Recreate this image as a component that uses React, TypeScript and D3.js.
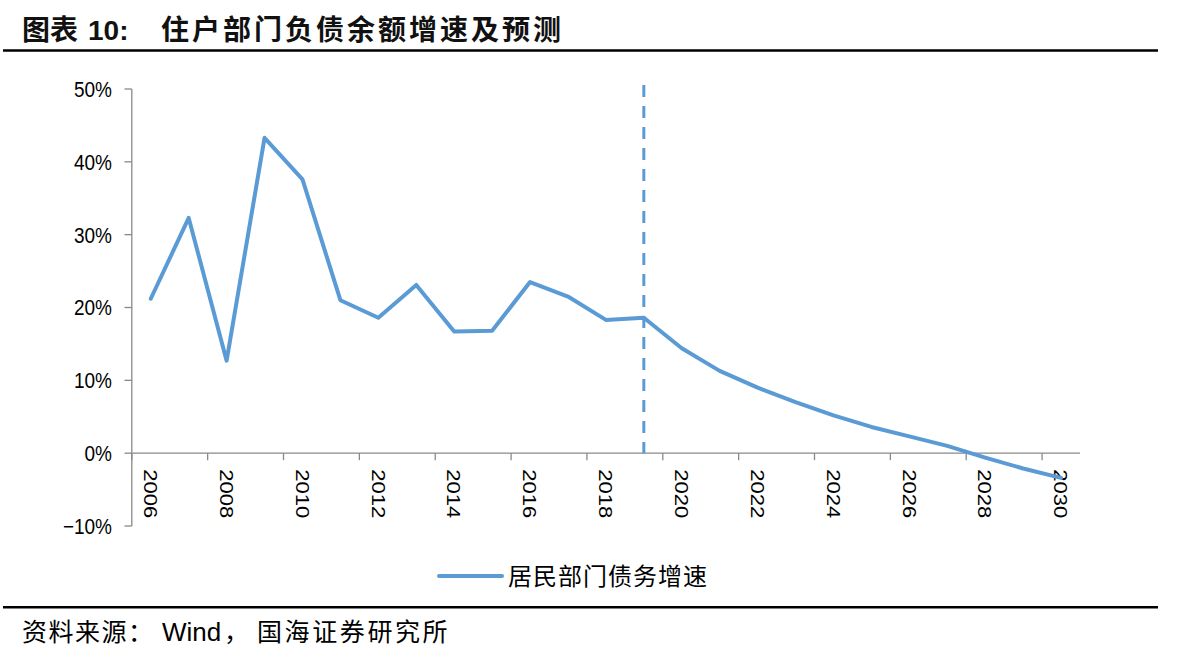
import React from "react";
import * as d3 from "d3";

const years: string[] = [
  "2006", "2007", "2008", "2009", "2010", "2011", "2012", "2013", "2014", "2015",
  "2016", "2017", "2018", "2019", "2020", "2021", "2022", "2023", "2024", "2025",
  "2026", "2027", "2028", "2029", "2030",
];
const growth: number[] = [
  21.2, 32.3, 12.7, 43.3, 37.6, 21.0, 18.6, 23.1, 16.7, 16.8,
  23.5, 21.5, 18.3, 18.6, 14.4, 11.3, 9.0, 7.0, 5.2, 3.6,
  2.3, 1.0, -0.6, -2.1, -3.4,
];
const yTicks: number[] = [-10, 0, 10, 20, 30, 40, 50];
const forecastStart = "2019";
const seriesName = "居民部门债务增速";
const titlePrefix = "图表";
const titleNum = "10:";
const titleText = "住户部门负债余额增速及预测";

const W = 1177;
const H = 655;
const BLUE = "#5B9BD5";
const AXIS = "#898989";
const LATIN = "'Liberation Sans', Arial, sans-serif";
const CJK = "'Noto Sans CJK SC', 'Noto Sans', sans-serif";
const STRETCH = 1.16;

export default function App() {
  const x = d3.scaleBand<string>().domain(years).range([131.8, 1080]).padding(0);
  const y = d3.scaleLinear().domain([-10, 50]).range([526, 89]);
  const cx = (c: string) => (x(c) as number) + x.bandwidth() / 2;

  const line = d3
    .line<number>()
    .x((_, i) => cx(years[i]))
    .y((d) => y(d));

  const y0 = y(0);
  const tickBoundaries = years
    .map((c, i) => ({ c, i }))
    .filter((d) => d.i % 2 === 0)
    .map((d) => x(d.c) as number);
  const labelYears = years.filter((_, i) => i % 2 === 0);
  const fx = cx(forecastStart);

  return (
    <svg
      width={W}
      height={H}
      style={{ position: "absolute", left: 0, top: 0, background: "#fff" }}
    >
      <rect x={0} y={0} width={W} height={H} fill="#fff" />
      {/* Title */}
      <text x={22} y={40} fontFamily={CJK} fontWeight={700} fontSize={28} fill="#111">
        {titlePrefix}
      </text>
      <text x={88} y={40} fontFamily={LATIN} fontWeight={700} fontSize={28} fill="#111">
        {titleNum}
      </text>
      <text
        x={161}
        y={40}
        fontFamily={CJK}
        fontWeight={700}
        fontSize={28}
        letterSpacing={3}
        fill="#111"
      >
        {titleText}
      </text>
      <line x1={3} x2={1158} y1={50.5} y2={50.5} stroke="#000" strokeWidth={2.6} />

      {/* Y axis */}
      <line x1={131.8} x2={131.8} y1={y(50)} y2={y(-10)} stroke={AXIS} strokeWidth={1.3} />
      {yTicks.map((t) => (
        <g key={t}>
          <line x1={124.5} x2={131.8} y1={y(t)} y2={y(t)} stroke={AXIS} strokeWidth={1.3} />
          <text
            transform={`translate(112, ${y(t)}) scale(1, ${STRETCH})`}
            textAnchor="end"
            dy="0.36em"
            fontFamily={LATIN}
            fontSize={19}
            fill="#000"
          >
            {t < 0 ? `\u2212${Math.abs(t)}%` : `${t}%`}
          </text>
        </g>
      ))}

      {/* X axis */}
      <line x1={131.8} x2={1080} y1={y0} y2={y0} stroke={AXIS} strokeWidth={1.3} />
      {tickBoundaries.map((bx, i) => (
        <line key={i} x1={bx} x2={bx} y1={y0} y2={y0 + 7} stroke={AXIS} strokeWidth={1.3} />
      ))}
      {labelYears.map((c) => (
        <text
          key={c}
          transform={`translate(${cx(c) - 6.8}, ${y0 + 16}) scale(1, ${STRETCH}) rotate(90)`}
          textAnchor="start"
          fontFamily={LATIN}
          fontSize={19}
          fill="#000"
        >
          {c}
        </text>
      ))}

      {/* Forecast divider */}
      <line
        x1={fx}
        x2={fx}
        y1={y(50) - 4}
        y2={y0}
        stroke={BLUE}
        strokeWidth={3}
        strokeDasharray="12,9"
      />

      {/* Series */}
      <path
        d={line(growth) || ""}
        fill="none"
        stroke={BLUE}
        strokeWidth={4}
        strokeLinejoin="round"
        strokeLinecap="round"
      />

      {/* Legend */}
      <line x1={439} x2={502} y1={576} y2={576} stroke={BLUE} strokeWidth={4} strokeLinecap="round" />
      <text x={508} y={585} fontFamily={CJK} fontSize={24} letterSpacing={1} fill="#000">
        {seriesName}
      </text>

      {/* Source */}
      <line x1={3} x2={1158} y1={607.3} y2={607.3} stroke="#000" strokeWidth={2.6} />
      <text x={22} y={641} fontFamily={CJK} fontSize={25} letterSpacing={1.5} fill="#000">
        资料来源：
      </text>
      <text x={162} y={641} fontFamily={LATIN} fontSize={26} fill="#000">
        Wind
      </text>
      <text x={224} y={641} fontFamily={CJK} fontSize={25} fill="#000">
        ，
      </text>
      <text x={257} y={641} fontFamily={CJK} fontSize={25} letterSpacing={2.6} fill="#000">
        国海证券研究所
      </text>
    </svg>
  );
}
